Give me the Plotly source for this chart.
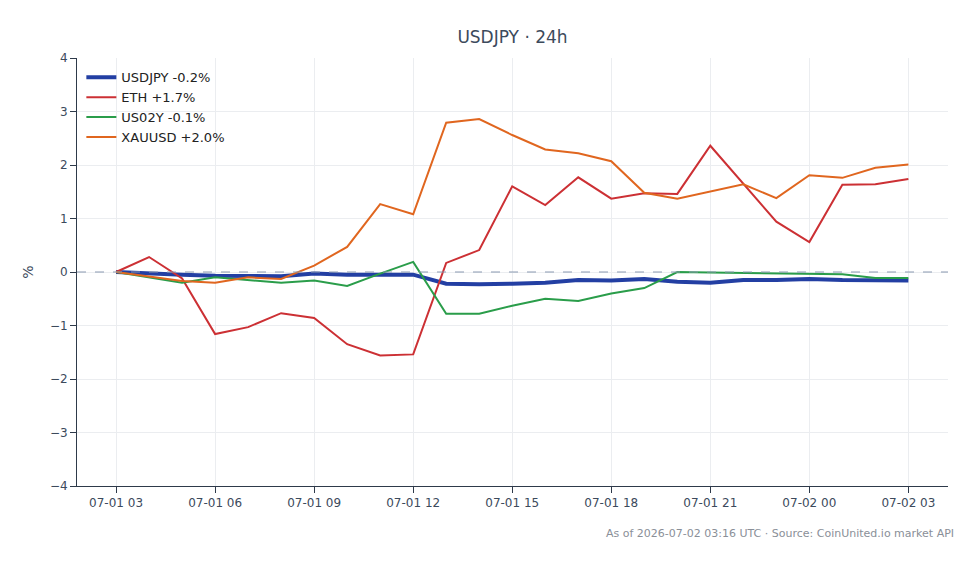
import plotly.graph_objects as go
import pandas as pd

times = pd.date_range("2026-07-01 03:00", "2026-07-02 03:00", freq="h")

usdjpy = [0.0, -0.03, -0.05, -0.07, -0.07, -0.08, -0.03, -0.05, -0.05, -0.05,
          -0.22, -0.23, -0.22, -0.20, -0.15, -0.16, -0.13, -0.18, -0.20, -0.15,
          -0.15, -0.13, -0.15, -0.16, -0.16]
eth = [0.0, 0.28, -0.12, -1.16, -1.03, -0.77, -0.86, -1.35, -1.56, -1.54,
       0.17, 0.41, 1.60, 1.25, 1.77, 1.37, 1.47, 1.46, 2.36, 1.66,
       0.94, 0.56, 1.63, 1.64, 1.74]
us02y = [0.0, -0.10, -0.20, -0.10, -0.15, -0.20, -0.16, -0.26, -0.03, 0.19,
         -0.78, -0.78, -0.63, -0.50, -0.54, -0.40, -0.30, 0.0, -0.01, -0.02,
         -0.03, -0.04, -0.04, -0.11, -0.11]
xauusd = [0.0, -0.08, -0.17, -0.20, -0.10, -0.13, 0.12, 0.47, 1.27, 1.08,
          2.79, 2.86, 2.56, 2.29, 2.22, 2.07, 1.48, 1.37, 1.50, 1.64,
          1.38, 1.81, 1.76, 1.95, 2.01]

names = ["USDJPY -0.2%", "ETH +1.7%", "US02Y -0.1%", "XAUUSD +2.0%"]
colors = ["#233fa3", "#cc3034", "#2a9d4a", "#e0661f"]
widths = [4, 2, 2, 2]
series = [usdjpy, eth, us02y, xauusd]

fig = go.Figure()
for n, c, w, s in zip(names, colors, widths, series):
    fig.add_trace(go.Scatter(x=times, y=s, mode="lines", name=n,
                             line=dict(color=c, width=w)))

fig.add_hline(y=0, line=dict(color="#8a99b0", width=1, dash="dash"))

x0 = pd.Timestamp("2026-07-01 03:00") - pd.Timedelta(minutes=71)
x1 = pd.Timestamp("2026-07-02 03:00") + pd.Timedelta(minutes=72)

FONT = "DejaVu Sans"
fig.update_layout(
    width=980, height=564,
    margin=dict(l=77, r=32, t=58, b=78),
    paper_bgcolor="white", plot_bgcolor="white",
    font=dict(family=FONT, color="#3c4a5c", size=12),
    title=dict(text="USDJPY · 24h", x=0.5, xref="paper", xanchor="center",
               y=0.945, font=dict(family=FONT, size=17, color="#3c4a5c")),
    legend=dict(x=0.005, y=0.99, xanchor="left", yanchor="top",
                bgcolor="rgba(255,255,255,0)",
                font=dict(family=FONT, size=13, color="#222")),
    showlegend=True,
)
fig.update_xaxes(range=[x0, x1], tickformat="%m-%d %H", dtick=3 * 3600 * 1000,
                 tick0="2026-07-01 03:00",
                 showgrid=True, gridcolor="#ebedf0", showline=True,
                 linecolor="#2e3a4a", linewidth=1, ticks="outside",
                 ticklen=6, tickcolor="#2e3a4a", zeroline=False,
                 tickfont=dict(family=FONT, size=12, color="#3c4a5c"))
fig.update_yaxes(range=[-4, 4], dtick=1, showgrid=True, gridcolor="#ebedf0",
                 showline=True, linecolor="#2e3a4a", linewidth=1,
                 ticks="outside", ticklen=6, tickcolor="#2e3a4a",
                 zeroline=False, title=dict(text="%", standoff=12),
                 tickfont=dict(family=FONT, size=12, color="#3c4a5c"))

fig.add_annotation(text="As of 2026-07-02 03:16 UTC · Source: CoinUnited.io market API",
                   xref="paper", yref="paper", x=1.009, y=-0.11,
                   xanchor="right", yanchor="middle", showarrow=False,
                   font=dict(family=FONT, size=11, color="#8a8f98"))

fig.write_html("out.html")
